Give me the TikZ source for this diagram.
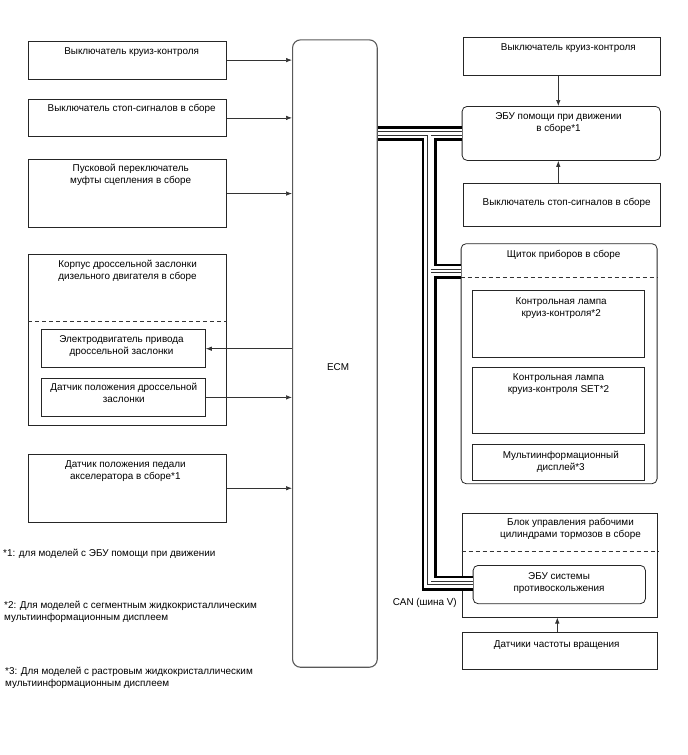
\documentclass[tikz,border=0pt]{standalone}
\usepackage{fontspec}
\setmainfont{Liberation Sans}
\usetikzlibrary{arrows.meta}
\begin{document}
\begin{tikzpicture}[x=1pt,y=-1pt,
  box/.style={draw=black!85, line width=0.8pt, inner sep=0pt, anchor=north west},
  rbox/.style={box, rounded corners=5pt},
  txt/.style={font=\fontsize{9.9}{12}\selectfont, align=center, inner sep=0pt, anchor=base},
  ntxt/.style={font=\fontsize{9.9}{12}\selectfont, align=left, inner sep=0pt, anchor=base west},
  arr/.style={draw=black!80, line width=0.7pt, -{Latex[length=6pt,width=4.5pt]}},
  sepline/.style={draw=black!80, line width=0.8pt, dash pattern=on 4pt off 3pt},
]
\useasboundingbox (0,0) rectangle (688,755);

% left column
\node[box, minimum width=197.7pt, minimum height=38pt] (b1) at (28.3,40.7) {};
\node[box, minimum width=197.7pt, minimum height=37pt] (b2) at (28.3,99) {};
\node[box, minimum width=197.7pt, minimum height=68.3pt] (b3) at (28.3,159) {};
\node[box, minimum width=197.7pt, minimum height=171pt] (b4) at (28.3,254) {};
\node[box, minimum width=164pt, minimum height=38pt] (b4a) at (41,329.3) {};
\node[box, minimum width=164pt, minimum height=37.4pt] (b4b) at (41,378.3) {};
\node[box, minimum width=197.7pt, minimum height=67.7pt] (b5) at (28.3,454) {};

% ECM
\node[box, draw=black!65, line width=1.1pt, rounded corners=8pt, minimum width=84.7pt, minimum height=627.4pt] (ecm) at (292,39.3) {};
\node[txt] (tecm) at (338,370.5) {ECM};

% right column
\node[box, minimum width=196.7pt, minimum height=38.3pt] (r1) at (463.3,36.7) {};
\node[rbox, minimum width=198.3pt, minimum height=54pt] (ebu) at (461.7,106) {};
\node[box, minimum width=196.7pt, minimum height=42.7pt] (r3) at (463.3,183.3) {};
\node[rbox, minimum width=196pt, minimum height=240pt] (ip) at (460.7,243.3) {};
\node[box, minimum width=172.6pt, minimum height=66.7pt] (ip1) at (471.7,290) {};
\node[box, minimum width=172.6pt, minimum height=66pt] (ip2) at (471.7,367.3) {};
\node[box, minimum width=172.6pt, minimum height=35.7pt] (ip3) at (471.7,444.3) {};
\node[box, minimum width=195.6pt, minimum height=103.4pt] (brk) at (461.7,513.3) {};
\node[rbox, minimum width=172.3pt, minimum height=38.3pt] (abs) at (472.7,565) {};
\node[box, minimum width=195.6pt, minimum height=37.6pt] (spd) at (461.7,631.7) {};

% dashed separators
\coordinate (d1) at (0,321);
\coordinate (d2) at (0,277.7);
\coordinate (d3) at (0,551.7);
\draw[sepline] (b4.west |- d1) -- (b4.east |- d1);
\draw[sepline] (ip.west |- d2) -- (ip.east |- d2);
\draw[sepline] (brk.west |- d3) -- (brk.east |- d3);

% texts (base anchor = baseline of last line)
\node[txt] (t1) at (131.7,54) {Выключатель круиз-контроля};
\node[txt] (t2) at (131.7,111.6) {Выключатель стоп-сигналов в сборе};
\node[txt] (t3) at (130.7,183.3) {Пусковой переключатель\\муфты сцепления в сборе};
\node[txt] (t4) at (127.6,279.5) {Корпус дроссельной заслонки\\дизельного двигателя в сборе};
\node[txt] (t4a) at (121.5,354.2) {Электродвигатель привода\\дроссельной заслонки};
\node[txt] (t4b) at (123.8,402.5) {Датчик положения дроссельной\\заслонки};
\node[txt] (t5) at (125.4,479.3) {Датчик положения педали\\акселератора в сборе*1};

\node[txt] (tr1) at (568.3,50) {Выключатель круиз-контроля};
\node[txt] (tebu) at (558.5,131.8) {ЭБУ помощи при движении\\в сборе*1};
\node[txt] (tr3) at (566.7,205) {Выключатель стоп-сигналов в сборе};
\node[txt] (tip) at (563.7,257.6) {Щиток приборов в сборе};
\node[txt] (tip1) at (561.2,316.5) {Контрольная лампа\\круиз-контроля*2};
\node[txt] (tip2) at (558.5,392.3) {Контрольная лампа\\круиз-контроля SET*2};
\node[txt] (tip3) at (560.8,470) {Мультиинформационный\\дисплей*3};
\node[txt] (tbrk) at (570.5,537.5) {Блок управления рабочими\\цилиндрами тормозов в сборе};
\node[txt] (tabs) at (559,591.6) {ЭБУ системы\\противоскольжения};
\node[txt] (tspd) at (556.7,647.3) {Датчики частоты вращения};

\node[txt, anchor=base east] (tcan) at (457,605) {CAN (шина V)};

\node[ntxt] (f1) at (3,556) {*1: для моделей с ЭБУ помощи при движении};
\node[ntxt] (f2) at (4,620) {*2: Для моделей с сегментным жидкокристаллическим\\мультиинформационным дисплеем};
\node[ntxt] (f3) at (5,686.3) {*3: Для моделей с растровым жидкокристаллическим\\мультиинформационным дисплеем};

% arrows left
\draw[arr] (b1.east) -- (b1.east -| ecm.west);
\draw[arr] (b2.east) -- (b2.east -| ecm.west);
\draw[arr] (b3.east) -- (b3.east -| ecm.west);
\draw[arr] (b4a.east -| ecm.west) -- (b4a.east);
\draw[arr] (b4b.east) -- (b4b.east -| ecm.west);
\draw[arr] (b5.east) -- (b5.east -| ecm.west);

% arrows right
\coordinate (ax1) at (558.3,0);
\coordinate (ax2) at (557.3,0);
\draw[arr] (ax1 |- r1.south) -- (ax1 |- ebu.north);
\draw[arr] (ax1 |- r3.north) -- (ax1 |- ebu.south);
\draw[arr] (ax2 |- spd.north) -- (ax2 |- brk.south);

% CAN bus
\coordinate (j1) at (429.2,133);
\coordinate (j2) at (429.2,271);
\foreach \w/\c in {15/black,9.6/white,4.4/black!80,2.6/white}{
  \draw[line width=\w pt, draw=\c, line join=miter] ([xshift=0.6pt]ebu.west -| ecm.east) -- (ebu.west);
  \draw[line width=\w pt, draw=\c, line join=miter] (j1) |- ([yshift=1.5pt]abs.west);
  \draw[line width=\w pt, draw=\c, line join=miter] (j2) -- (j2 -| ip.west);
}
\end{tikzpicture}
\end{document}
